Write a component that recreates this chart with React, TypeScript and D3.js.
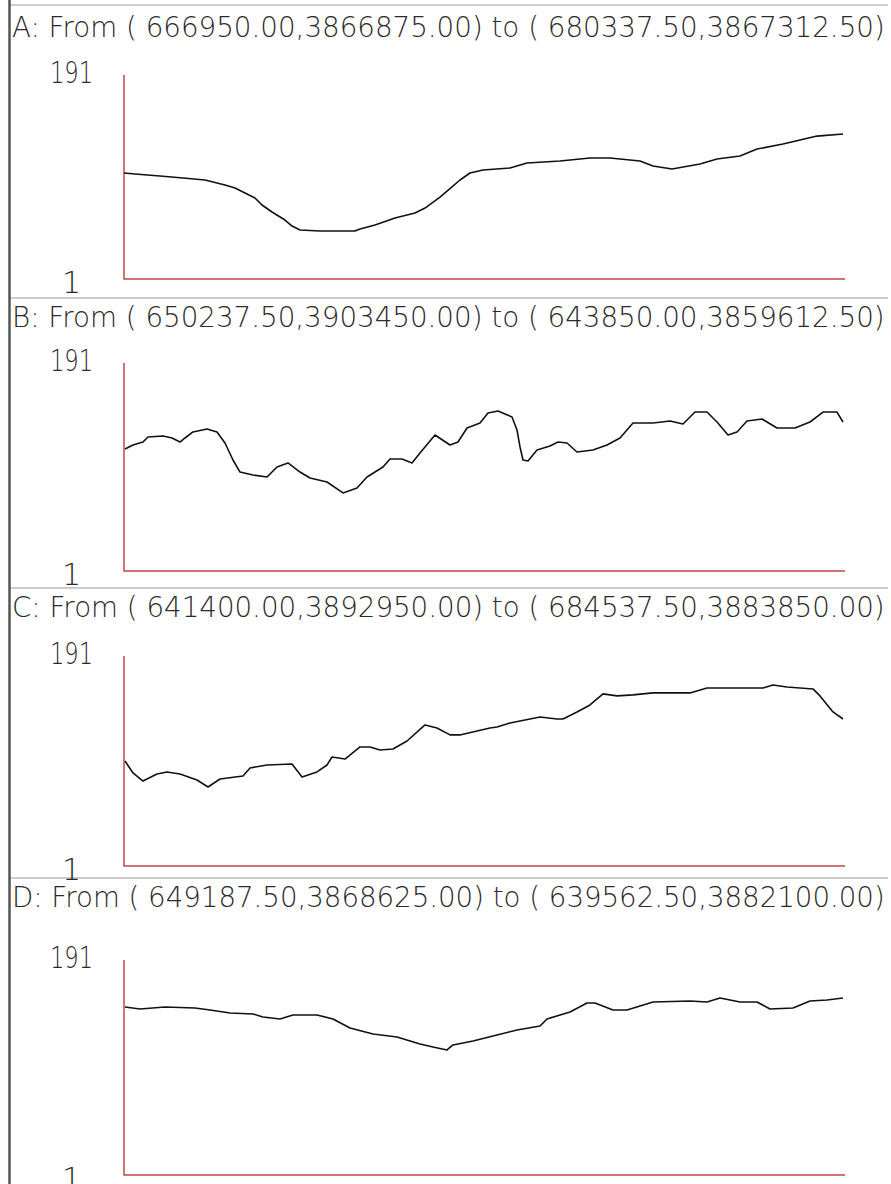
import React, { useLayoutEffect, useRef, useState } from 'react';
import * as d3 from 'd3';

// ---- data ----
const titles: string[] = [
  'A: From ( 666950.00,3866875.00) to ( 680337.50,3867312.50)',
  'B: From ( 650237.50,3903450.00) to ( 643850.00,3859612.50)',
  'C: From ( 641400.00,3892950.00) to ( 684537.50,3883850.00)',
  'D: From ( 649187.50,3868625.00) to ( 639562.50,3882100.00)',
];
const yTickLabels: string[] = ['191', '1'];
const yDomain: [number, number] = [1, 191];
const xDomain: [number, number] = [0, 721];

// [sample position along profile, value]
const profileA: [number, number][] = [
  [0, 99.7], [11, 98.8], [36, 96.9], [59, 95.0], [81, 93.2], [101, 88.5], [111, 85.7], [121, 81.1],
  [131, 76.4], [138, 69.9], [148, 63.4], [161, 55.9], [168, 50.3], [176, 46.6], [196, 45.7], [231, 45.7],
  [236, 47.6], [251, 51.3], [271, 57.8], [291, 62.4], [301, 67.1], [316, 77.3], [328, 86.7], [336, 93.2],
  [346, 99.7], [359, 102.5], [386, 104.4], [403, 109.0], [436, 110.9], [466, 113.7], [486, 113.7],
  [516, 110.9], [529, 106.2], [548, 103.4], [576, 108.1], [593, 112.7], [616, 115.5], [633, 122.0],
  [659, 126.7], [693, 134.1], [719, 136.0],
];
const profileB: [number, number][] = [
  [1, 112.4], [9, 116.1], [19, 118.8], [24, 123.4], [39, 124.3], [48, 122.5], [56, 118.8], [61, 122.5],
  [69, 128.0], [83, 130.7], [93, 128.0], [101, 117.9], [109, 102.4], [116, 91.4], [129, 88.7], [143, 86.9],
  [153, 96.0], [164, 99.7], [176, 91.4], [186, 86.0], [203, 82.3], [219, 72.3], [233, 76.8], [243, 86.9],
  [259, 96.0], [266, 103.3], [278, 103.3], [288, 99.7], [296, 108.8], [311, 125.2], [326, 116.1],
  [334, 118.8], [343, 131.6], [356, 136.2], [364, 145.3], [374, 147.2], [388, 141.7], [393, 129.8],
  [396, 114.3], [399, 102.4], [404, 101.5], [413, 111.5], [426, 115.2], [434, 118.8], [443, 117.9],
  [453, 109.7], [469, 111.5], [483, 116.1], [496, 122.5], [509, 136.2], [529, 136.2], [546, 138.0],
  [559, 135.3], [571, 146.2], [583, 146.2], [593, 137.1], [604, 125.2], [613, 128.0], [623, 138.0],
  [638, 139.8], [653, 131.6], [671, 131.6], [686, 137.1], [699, 146.2], [713, 146.2], [719, 137.1],
];
const profileC: [number, number][] = [
  [1, 96.0], [9, 85.2], [19, 77.9], [33, 84.3], [43, 86.1], [56, 84.3], [73, 78.8], [84, 72.5],
  [96, 79.7], [119, 82.5], [126, 89.7], [143, 92.4], [168, 93.3], [178, 81.5], [193, 86.1], [203, 92.4],
  [208, 99.6], [221, 97.8], [236, 108.7], [246, 108.7], [256, 106.0], [269, 106.9], [283, 114.1],
  [301, 128.6], [313, 125.9], [326, 119.6], [336, 119.6], [353, 123.2], [366, 125.9], [373, 126.8],
  [386, 130.4], [416, 135.8], [433, 134.0], [439, 134.0], [453, 140.4], [466, 146.7], [479, 156.7],
  [493, 154.9], [509, 155.8], [529, 157.6], [566, 157.6], [583, 162.1], [639, 162.1], [649, 164.8],
  [663, 163.0], [689, 161.2], [696, 154.9], [709, 140.4], [719, 134.0],
];
const profileD: [number, number][] = [
  [1, 149.5], [16, 147.7], [41, 149.5], [71, 148.6], [86, 146.8], [106, 144.2], [129, 143.3], [139, 140.6],
  [156, 138.9], [169, 142.4], [193, 142.4], [209, 138.9], [226, 130.9], [249, 125.6], [273, 123.0],
  [296, 116.8], [309, 114.1], [323, 111.5], [329, 115.9], [349, 119.4], [373, 124.7], [393, 129.1],
  [416, 132.7], [423, 138.9], [446, 145.0], [463, 153.0], [471, 153.0], [489, 146.8], [503, 146.8],
  [529, 153.9], [566, 154.8], [583, 153.9], [596, 157.4], [616, 153.9], [633, 153.9], [646, 147.7],
  [669, 148.6], [686, 154.8], [703, 155.6], [719, 157.4],
];
const profiles = [profileA, profileB, profileC, profileD];

// ---- layout ----
const W = 891;
const H = 1184;
const plotLeft = 124;
const plotRight = 845;
const panels = [
  { titleY: 37, top: 75, bottom: 279 },
  { titleY: 327, top: 363, bottom: 571 },
  { titleY: 617, top: 656, bottom: 866 },
  { titleY: 907, top: 960, bottom: 1175 },
];
const separators = [5, 298, 588, 878];
const fontFamily = '"DejaVu Sans", "Liberation Sans", sans-serif';

type FitProps = {
  x: number;
  y: number;
  width?: number;
  anchor?: 'start' | 'middle' | 'end';
  size: number;
  children: string;
};

function FitText({ x, y, width, anchor = 'start', size, children }: FitProps) {
  const ref = useRef<SVGTextElement>(null);
  const [sx, setSx] = useState(1);
  useLayoutEffect(() => {
    if (ref.current && width) {
      const w = ref.current.getComputedTextLength();
      if (w > 0) setSx(width / w);
    }
  }, [children, width]);
  return (
    <text
      ref={ref}
      transform={`translate(${x},${y}) scale(${sx},1)`}
      textAnchor={anchor}
      fontFamily={fontFamily}
      fontSize={size}
      fontWeight={300}
      fill="#2a2a2a"
    >
      {children}
    </text>
  );
}

export default function App() {
  const x = d3.scaleLinear().domain(xDomain).range([plotLeft, plotRight]);
  return (
    <svg width={W} height={H} style={{ position: 'absolute', left: 0, top: 0, display: 'block' }}>
      <rect x={0} y={0} width={W} height={H} fill="#ffffff" />
      {separators.map((sy, i) => (
        <line key={'s' + i} x1={10} x2={888} y1={sy} y2={sy} stroke="#bdbdbd" strokeWidth={1.5} />
      ))}
      <line x1={9.5} x2={9.5} y1={0} y2={H} stroke="#555" strokeWidth={2.5} />
      {panels.map((p, i) => {
        const y = d3.scaleLinear().domain(yDomain).range([p.bottom, p.top]);
        const line = d3
          .line<[number, number]>()
          .x((d) => x(d[0]))
          .y((d) => y(d[1]));
        const axisPath = `M${x(xDomain[0])},${y(yDomain[1])}V${y(yDomain[0])}H${x(xDomain[1])}`;
        return (
          <g key={i}>
            <FitText x={12} y={p.titleY} width={873} size={29}>
              {titles[i]}
            </FitText>
            <FitText x={71.5} y={y(yDomain[1]) + 8} width={43} anchor="middle" size={30}>
              {yTickLabels[0]}
            </FitText>
            <FitText x={71.5} y={y(yDomain[0]) + 14} anchor="middle" size={30}>
              {yTickLabels[1]}
            </FitText>
            <path d={axisPath} fill="none" stroke="#c04848" strokeWidth={1.5} />
            <path d={line(profiles[i]) || ''} fill="none" stroke="#111" strokeWidth={1.6} strokeLinejoin="round" />
          </g>
        );
      })}
    </svg>
  );
}
